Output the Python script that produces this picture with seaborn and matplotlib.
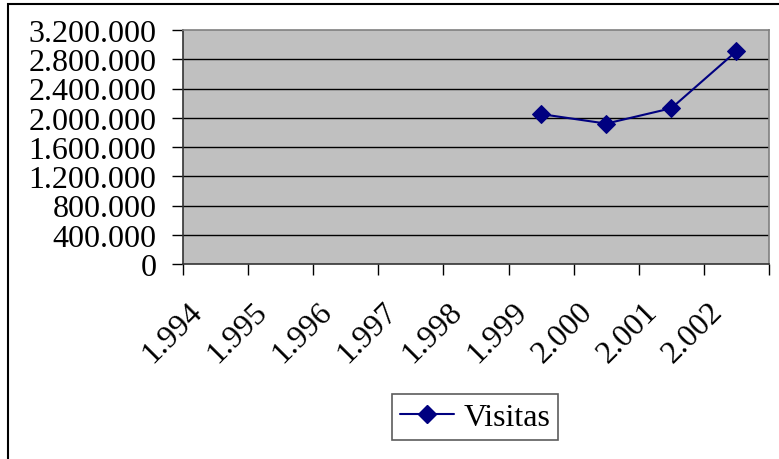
import numpy as np
import pandas as pd
import seaborn as sns
import matplotlib.pyplot as plt
from matplotlib.patches import Rectangle
from matplotlib.lines import Line2D

years = ["1.994", "1.995", "1.996", "1.997", "1.998", "1.999", "2.000", "2.001", "2.002"]
visitas = [np.nan, np.nan, np.nan, np.nan, np.nan, 2050000, 1920000, 2130000, 2910000]
y_ticks = [0, 400000, 800000, 1200000, 1600000, 2000000, 2400000, 2800000, 3200000]

sns.set_style("white")
plt.rcParams['font.family'] = ['Liberation Serif', 'DejaVu Serif']
plt.rcParams.update({'text.color': 'black', 'xtick.color': 'black', 'ytick.color': 'black'})
fs = 23

df = pd.DataFrame({"pos": np.arange(len(years)), "Visitas": visitas})

fig = plt.figure(figsize=(7.79, 4.60), dpi=100)
ax = fig.add_axes([183/779, 1 - 265/460, (769 - 183)/779, (265 - 31)/460])
ax.set_facecolor("#C0C0C0")

sns.lineplot(data=df, x="pos", y="Visitas", ax=ax, color="#000080", marker="D",
             markersize=9, markeredgecolor="#000080", linewidth=1.5, legend=False)

ax.set_xlim(-0.5, len(years) - 0.5)
ax.set_ylim(0, 3200000)
ax.set_yticks(y_ticks)
ax.set_yticklabels([f"{v:,.0f}".replace(",", ".") for v in y_ticks], fontsize=fs)
for v in y_ticks[1:-1]:
    ax.axhline(v, color="black", linewidth=1, zorder=1)

ax.set_xticks(np.arange(len(years) + 1) - 0.5)
ax.set_xticklabels([])
ax.tick_params(axis="both", direction="out", length=8, width=1, color="black",
               labelcolor="black", bottom=True, left=True)
ax.tick_params(axis="y", pad=11)
ax.set_xlabel("")
ax.set_ylabel("")

# rotated category labels (Excel style placement)
for i, lab in enumerate(years):
    ax.text(i - 0.277, -0.184, lab, transform=ax.get_xaxis_transform(), color="black",
            rotation=45, ha="right", va="center", rotation_mode="anchor", fontsize=fs)

for side in ["top", "right"]:
    ax.spines[side].set_color("#808080")
    ax.spines[side].set_linewidth(1.2)
for side in ["left", "bottom"]:
    ax.spines[side].set_color("#333333")
    ax.spines[side].set_linewidth(1.2)

handle = Line2D([], [], color="#000080", marker="D", markersize=9, linewidth=1.5)
leg = fig.legend([handle], ["Visitas"], loc="center", bbox_to_anchor=(475/779, 1 - 418/460),
                 fontsize=fs, frameon=True, fancybox=False, handlelength=1.7,
                 handletextpad=0.3, borderpad=0.25, labelcolor="black")
leg.get_frame().set_edgecolor("#333333")
leg.get_frame().set_linewidth(1.2)

fig.patches.append(Rectangle((8/779, -0.1), 1.2, 1.1 - 5/460, transform=fig.transFigure,
                             fill=False, edgecolor="black", linewidth=1.5))

fig.savefig("out.png", dpi=100)
